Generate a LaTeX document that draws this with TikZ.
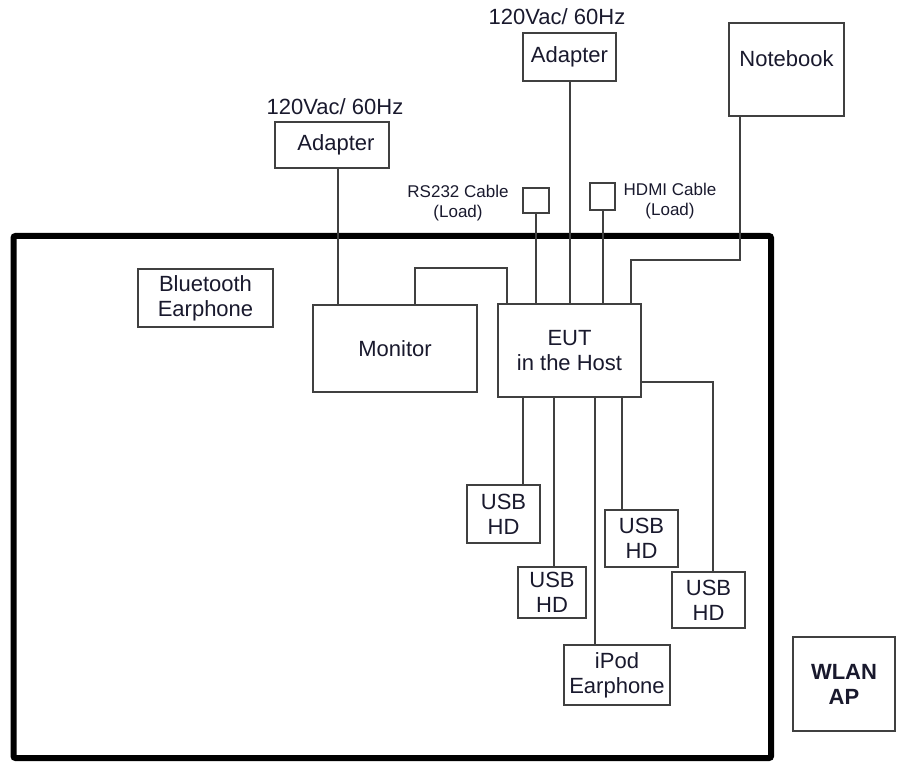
\documentclass[tikz,border=0pt]{standalone}
\usepackage{fontspec}
\setmainfont{Liberation Sans}
\definecolor{wiregray}{RGB}{64,64,64}
\definecolor{labelink}{RGB}{25,25,45}

\begin{document}
\begin{tikzpicture}[x=0.5pt,y=-0.5pt,font=\fontsize{11}{12.5}\selectfont,
  unit/.style={draw=wiregray,line width=1pt,fill=white,inner sep=0pt,align=center,text=labelink},
  wire/.style={wiregray,line width=1pt},
  tag/.style={inner sep=0pt,align=center,text=labelink},
  smalltag/.style={tag,font=\fontsize{8.5}{10}\selectfont}]
  \useasboundingbox (0,0) rectangle (897,763);

  % test table
  \draw[line width=3pt,rounded corners=1pt] (13.5,236) rectangle (771,758);

  % power
  \node[tag] (vacA) at (557,17) {120Vac/ 60Hz};
  \node[unit,minimum width=46.5pt,minimum height=24pt] (adpA) at (569.5,57) {Adapter};
  \node[tag] (vacB) at (335,107) {120Vac/ 60Hz};
  \node[unit,minimum width=57pt,minimum height=23pt] (adpB) at (332,145) {\hspace*{4pt}Adapter};

  % notebook and loads
  \node[unit,minimum width=57.5pt,minimum height=46.5pt] (nb) at (786.5,69.5) {Notebook\\[-2pt]};
  \node[unit,minimum width=13pt,minimum height=12.5pt] (rs) at (536,200.5) {};
  \node[smalltag] (rslbl) at (458,203) {RS232 Cable\\(Load)};
  \node[unit,minimum width=12.5pt,minimum height=13.5pt] (hdmi) at (602.5,196.5) {};
  \node[smalltag] (hdmilbl) at (670,201) {HDMI Cable\\(Load)};

  % inside
  \node[unit,minimum width=67.5pt,minimum height=29pt] (bt) at (205.5,298) {Bluetooth\\Earphone};
  \node[unit,minimum width=82pt,minimum height=43.5pt] (mon) at (395,348.5) {Monitor};
  \node[unit,minimum width=71.5pt,minimum height=46.5pt] (eut) at (569.5,350.5) {EUT\\in the Host};
  \node[unit,minimum width=36.5pt,minimum height=29pt] (usbA) at (503.5,514) {USB\\HD};
  \node[unit,minimum width=34pt,minimum height=25.5pt] (usbB) at (552,592.5) {USB\\HD};
  \node[unit,minimum width=36.5pt,minimum height=28.5pt] (usbC) at (641.5,538.5) {USB\\HD};
  \node[unit,minimum width=36.5pt,minimum height=28pt] (usbD) at (708.5,600) {USB\\HD};
  \node[unit,minimum width=53pt,minimum height=30pt] (ipod) at (617,675) {iPod\\Earphone};

  % outside
  \node[unit,minimum width=51pt,minimum height=47pt,font=\fontsize{11}{12.5}\selectfont\bfseries] (ap) at (844,684) {WLAN\\AP};

  % cables
  \coordinate (nbbend) at (740,260);
  \coordinate (eutnb) at (631,260);
  \coordinate (monbend) at (415,268);
  \coordinate (eutmon) at (507,268);
  \coordinate (usbbend) at (713,382);
  \draw[wire] (adpA.south) -- (adpA.south |- eut.north);
  \draw[wire] (adpB.south -| 338,0) -- (mon.north -| 338,0);
  \draw[wire] (rs.south) -- (rs.south |- eut.north);
  \draw[wire] (hdmi.south) -- (hdmi.south |- eut.north);
  \draw[wire] (nb.south -| nbbend) -- (nbbend) -- (eutnb) -- (eutnb |- eut.north);
  \draw[wire] (mon.north -| monbend) -- (monbend) -- (eutmon) -- (eutmon |- eut.north);
  \draw[wire] (eut.east |- usbbend) -- (usbbend) -- (usbbend |- usbD.north);
  \foreach \xx/\dev in {523/usbA,554/usbB,595/ipod,622/usbC}
    \draw[wire] (eut.south -| \xx,0) -- (\dev.north -| \xx,0);
\end{tikzpicture}
\end{document}
